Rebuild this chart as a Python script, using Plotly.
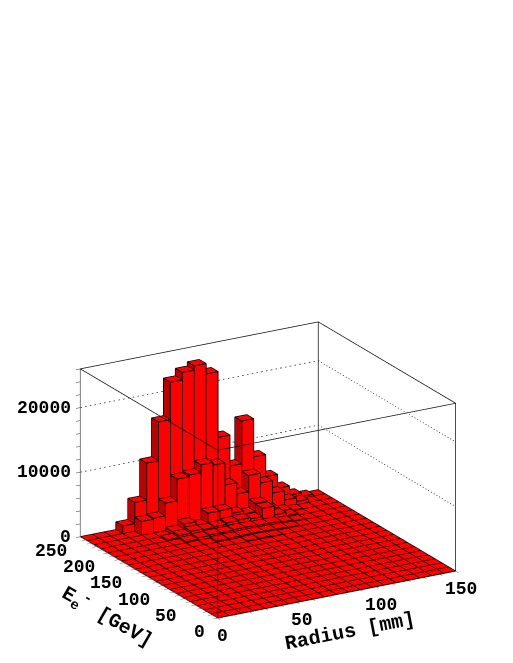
import numpy as np
import plotly.graph_objects as go

# histogram bins
radius_edges = [7.5 * i for i in range(21)]
energy_edges = [12.5 * j for j in range(21)]

# entries per radius bin, one list per energy row (the rows not listed are empty)
row_237 = [0, 0, 0, 1200, 4470, 10200, 16200, 22000, 23150, 23800, 22200, 12000, 7200, 13800, 7900, 4460, 2300, 880, 300, 0]
row_225 = [0, 0, 0, 0, 2150, 2300, 4270, 7630, 7900, 9100, 8700, 5270, 3500, 6000, 4480, 2560, 1100, 500, 0, 0]
row_212 = [0, 0, 0, 0, 0, 0, 500, 1300, 700, 2250, 2280, 1500, 1040, 2300, 1000, 400, 100, 0, 0, 0]
row_200 = [0, 0, 0, 0, 0, 200, 500, 800, 700, 800, 1000, 1100, 900, 2170, 800, 300, 0, 0, 0, 0]
row_187 = [0, 0, 0, 0, 0, 0, 200, 400, 500, 500, 600, 600, 500, 500, 300, 100, 0, 0, 0, 0]
row_175 = [0, 0, 0, 0, 0, 0, 0, 0, 200, 250, 300, 300, 250, 200, 100, 0, 0, 0, 0, 0]
row_162 = [0, 0, 0, 0, 0, 0, 0, 0, 0, 0, 100, 150, 100, 0, 0, 0, 0, 0, 0, 0]

filled_rows = {19: row_237, 18: row_225, 17: row_212, 16: row_200, 15: row_187, 14: row_175, 13: row_162}

z_max = 26000
z_grid = [10000, 20000]
radius_ticks = [0, 50, 100, 150]
energy_ticks = [0, 50, 100, 150, 200, 250]
z_ticks = [0, 10000, 20000]

counts = np.zeros((20, 20))
for j, row in filled_rows.items():
    counts[j] = row

BRIGHT = "rgb(255,0,0)"
DARK = "rgb(190,0,0)"

vx, vy, vz = [], [], []
fi, fj, fk, fc = [], [], [], []
ex, ey, ez = [], [], []

# edges sit a hair towards the viewer so the faces do not swallow them
EDGE_DX, EDGE_DY, EDGE_DZ = -0.12, -0.2, 25


def add_quad(pts, color):
    n = len(vx)
    for p in pts:
        vx.append(p[0])
        vy.append(p[1])
        vz.append(p[2])
    fi.extend([n, n])
    fj.extend([n + 1, n + 2])
    fk.extend([n + 2, n + 3])
    fc.extend([color, color])
    # outline of the face
    for p in pts + [pts[0]]:
        ex.append(max(p[0] + EDGE_DX, 0))
        ey.append(max(p[1] + EDGE_DY, 0))
        ez.append(p[2] + EDGE_DZ)
    ex.append(None)
    ey.append(None)
    ez.append(None)


for j in range(20):
    for i in range(20):
        x0, x1 = radius_edges[i], radius_edges[i + 1]
        y0, y1 = energy_edges[j], energy_edges[j + 1]
        h = counts[j][i]
        add_quad([(x0, y0, h), (x1, y0, h), (x1, y1, h), (x0, y1, h)], BRIGHT)
        if h > 0:
            add_quad([(x0, y0, 0), (x1, y0, 0), (x1, y0, h), (x0, y0, h)], BRIGHT)
            add_quad([(x0, y0, 0), (x0, y1, 0), (x0, y1, h), (x0, y0, h)], DARK)

fig = go.Figure()
fig.add_trace(go.Mesh3d(
    x=vx, y=vy, z=vz, i=fi, j=fj, k=fk, facecolor=fc, flatshading=True,
    lighting=dict(ambient=1, diffuse=0, specular=0, fresnel=0), hoverinfo="skip"
))
fig.add_trace(go.Scatter3d(
    x=ex, y=ey, z=ez, mode="lines", line=dict(color="black", width=2), hoverinfo="skip"
))

# box outline
xm, ym = radius_edges[-1], energy_edges[-1]
box_x, box_y, box_z = [], [], []
for seg in [
    [(0, 0, 0), (xm, 0, 0), (xm, ym, 0), (0, ym, 0), (0, 0, 0)],
    [(0, 0, z_max), (xm, 0, z_max), (xm, ym, z_max), (0, ym, z_max), (0, 0, z_max)],
    [(0, 0, 0), (0, 0, z_max)],
    [(xm, 0, 0), (xm, 0, z_max)],
    [(xm, ym, 0), (xm, ym, z_max)],
    [(0, ym, 0), (0, ym, z_max)],
]:
    for p in seg:
        box_x.append(p[0])
        box_y.append(p[1])
        box_z.append(p[2])
    box_x.append(None)
    box_y.append(None)
    box_z.append(None)
fig.add_trace(go.Scatter3d(
    x=box_x, y=box_y, z=box_z, mode="lines", line=dict(color="#111111", width=1.5), hoverinfo="skip"
))

# dotted grid on the two back walls
grid_x, grid_y, grid_z = [], [], []
for z in z_grid:
    grid_x += [0, xm, xm, None]
    grid_y += [ym, ym, 0, None]
    grid_z += [z, z, z, None]
fig.add_trace(go.Scatter3d(
    x=grid_x, y=grid_y, z=grid_z, mode="lines",
    line=dict(color="#333333", width=1.5, dash="dot"), hoverinfo="skip"
))

label_font = dict(family="Liberation Mono", size=18, color="black", weight="bold")
title_font = dict(family="Liberation Mono", size=20, color="black", weight="bold")
notes = []
for v in radius_ticks:
    notes.append(dict(x=v, y=0, z=0, text=str(v), xshift=5, yshift=-18, font=label_font))
for v in energy_ticks:
    notes.append(dict(x=0, y=v, z=0, text=str(v), xanchor="right", xshift=-11, yshift=-14, font=label_font))
for v in z_ticks:
    notes.append(dict(x=0, y=ym, z=v, text=str(v), xanchor="right", xshift=-7, yshift=0, font=label_font))
notes.append(dict(x=75, y=0, z=0, text="Radius [mm]", textangle=-11, xshift=13, yshift=-37, font=title_font))
notes.append(dict(x=0, y=125, z=0, text="E<sub>e</sub><sup>-</sup> [GeV]", textangle=30, xshift=-42, yshift=-39, font=title_font))
for n in notes:
    n.update(showarrow=False)


def axis(rng, tick_step, tick_side="outside"):
    return dict(
        range=rng, autorange=False, showgrid=False, zeroline=False, showbackground=False,
        showspikes=False, title=dict(text=""), showticklabels=False,
        ticks=tick_side, ticklen=5, tickcolor="#333333", tickvals=list(np.arange(rng[0], rng[1] + 1, tick_step)),
        showline=True, linecolor="#777777", linewidth=2,
    )


t = np.radians(30)
e = np.radians(20)
R = 2.41
unit_px = 327.5
right = np.array([np.cos(t), -np.sin(t), 0])
up = np.array([np.sin(e) * np.sin(t), np.sin(e) * np.cos(t), np.cos(e)])
view = np.array([-np.sin(t) * np.cos(e), -np.cos(t) * np.cos(e), np.sin(e)])
shift = right * (-7.5 / unit_px) + up * (134.5 / unit_px)
eye = shift + R * view
fig.update_layout(
    width=505, height=655, margin=dict(l=0, r=0, t=0, b=0),
    paper_bgcolor="white", showlegend=False,
    scene=dict(
        domain=dict(x=[0, 1], y=[0, 1]),
        xaxis=axis([0, xm], 10),
        yaxis=axis([0, ym], 10),
        zaxis=axis([0, z_max], 2000, "inside"),
        aspectmode="manual",
        aspectratio=dict(x=0.839, y=0.839, z=0.5455),
        camera=dict(
            projection=dict(type="orthographic"),
            up=dict(x=0, y=0, z=1),
            center=dict(x=shift[0], y=shift[1], z=shift[2]),
            eye=dict(x=eye[0], y=eye[1], z=eye[2]),
        ),
        annotations=notes,
    ),
)

fig.write_html("out.html")
